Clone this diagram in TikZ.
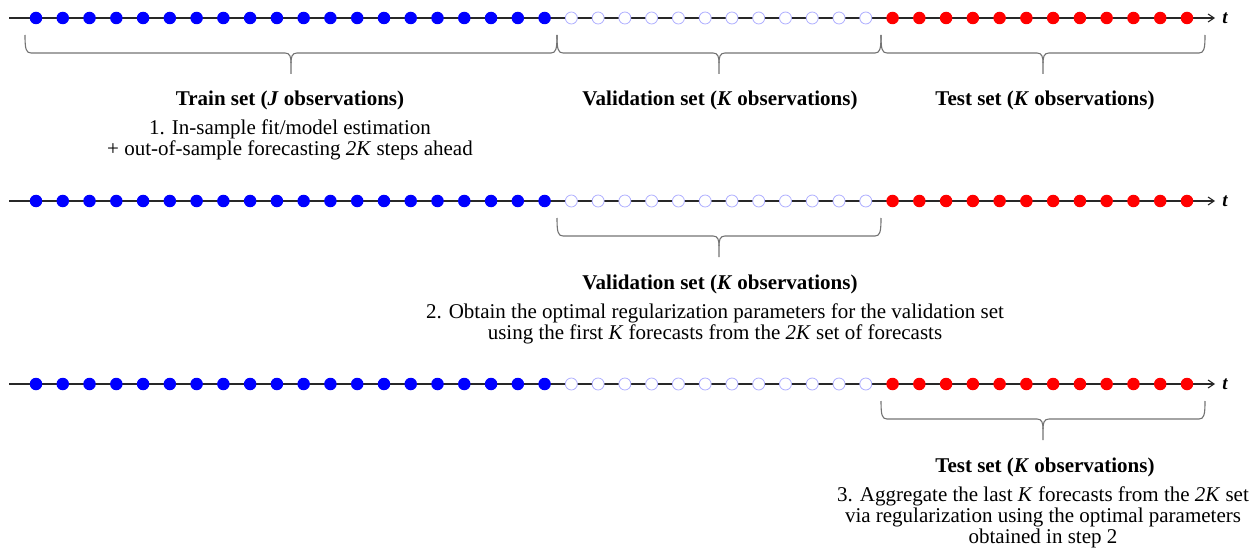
\documentclass[tikz,border=0pt]{standalone}
\usepackage{fontspec}
\setmainfont{Liberation Serif}
\usetikzlibrary{calc,arrows.meta}
\definecolor{dotblue}{RGB}{0,0,255}
\definecolor{dotred}{RGB}{255,0,0}
\definecolor{ringblue}{RGB}{175,175,255}
\definecolor{bracegray}{RGB}{115,115,115}
\definecolor{axisgray}{RGB}{40,40,40}
\tikzset{
  axisline/.style={draw=axisgray, line width=1.4pt, -{Straight Barb[length=6pt,width=8pt,line width=1.1pt]}},
  bluedot/.style={circle, fill=dotblue, inner sep=0pt, minimum size=12.5pt},
  reddot/.style={circle, fill=dotred, inner sep=0pt, minimum size=12.5pt},
  whitedot/.style={circle, fill=white, draw=ringblue, line width=0.8pt, inner sep=0pt, minimum size=12pt},
  bracepath/.style={draw=bracegray, line width=1.1pt},
  setlabel/.style={font=\fontsize{21}{21}\selectfont\bfseries, inner sep=0pt},
  steptext/.style={font=\fontsize{21}{21}\selectfont, align=center, inner sep=0pt},
  tlabel/.style={font=\fontsize{19}{21}\selectfont\bfseries\itshape, inner sep=0pt}
}
% custom brace between two named coordinates (#1 left, #2 right)
\newcommand{\mybrace}[2]{%
  \draw[bracepath] (#1) .. controls ($(#1)+(0,14)$) and ($(#1)+(1,18)$) .. ($(#1)+(6,18)$)
    -- ($($(#1)!0.5!(#2)$)+(-6,18)$)
    .. controls ($($(#1)!0.5!(#2)$)+(-1,18)$) and ($($(#1)!0.5!(#2)$)+(0,22)$) .. ($($(#1)!0.5!(#2)$)+(0,28)$)
    -- ($($(#1)!0.5!(#2)$)+(0,39)$);
  \draw[bracepath] ($($(#1)!0.5!(#2)$)+(0,28)$)
    .. controls ($($(#1)!0.5!(#2)$)+(0,22)$) and ($($(#1)!0.5!(#2)$)+(1,18)$) .. ($($(#1)!0.5!(#2)$)+(6,18)$)
    -- ($(#2)+(-6,18)$)
    .. controls ($(#2)+(-1,18)$) and ($(#2)+(0,14)$) .. (#2);
}
\begin{document}
\begin{tikzpicture}[x=1pt,y=-1pt]
\useasboundingbox (0,0) rectangle (1260,548);
\foreach \r/\y in {1/18, 2/201, 3/384} {
  \coordinate (a\r s) at (9,\y);
  \coordinate (a\r e) at (1215,\y);
  \draw[axisline] (a\r s) -- (a\r e);
  \node[tlabel] (t\r) at (1225,\y) {t};
  \foreach \i in {0,...,43} {
    \pgfmathsetmacro{\xx}{36+\i*26.767}
    \ifnum\i<20
      \node[bluedot] (d\r-\i) at (\xx,\y) {};
    \else\ifnum\i<32
      \node[whitedot] (d\r-\i) at (\xx,\y) {};
    \else
      \node[reddot] (d\r-\i) at (\xx,\y) {};
    \fi\fi
  }
}
% row 1 braces
\coordinate (b1a) at (25,35);
\coordinate (b1b) at (557,35);
\coordinate (b1c) at (881,35);
\coordinate (b1d) at (1205,35);
\mybrace{b1a}{b1b}
\mybrace{b1b}{b1c}
\mybrace{b1c}{b1d}
\node[setlabel] (train1) at (290,100) {Train set (\textit{J} observations)};
\node[setlabel] (val1) at (720,100) {Validation set (\textit{K} observations)};
\node[setlabel] (test1) at (1045,100) {Test set (\textit{K} observations)};
\node[steptext, anchor=north] (step1) at (290,120) {1. In-sample fit/model estimation\\+ out-of-sample forecasting \textit{2K} steps ahead};
% row 2
\coordinate (b2b) at (557,218);
\coordinate (b2c) at (881,218);
\mybrace{b2b}{b2c}
\node[setlabel] (val2) at (720,284) {Validation set (\textit{K} observations)};
\node[steptext, anchor=north] (step2) at (715,304) {2. Obtain the optimal regularization parameters for the validation set\\using the first \textit{K} forecasts from the \textit{2K} set of forecasts};
% row 3
\coordinate (b3c) at (881,401);
\coordinate (b3d) at (1205,401);
\mybrace{b3c}{b3d}
\node[setlabel] (test3) at (1045,467) {Test set (\textit{K} observations)};
\node[steptext, anchor=north] (step3) at (1043,487) {3. Aggregate the last \textit{K} forecasts from the \textit{2K} set\\via regularization using the optimal parameters\\obtained in step 2};
\end{tikzpicture}
\end{document}
